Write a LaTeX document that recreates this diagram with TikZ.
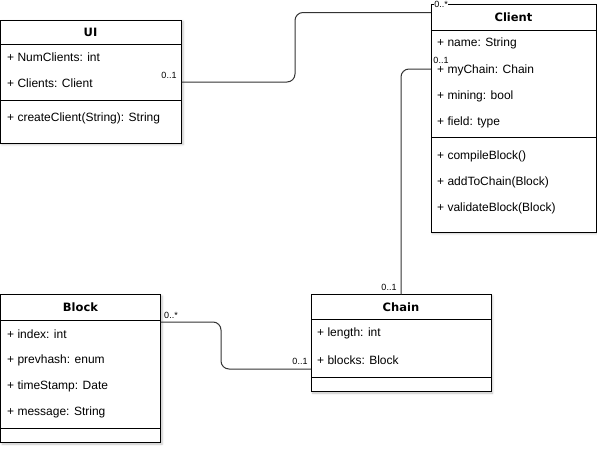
\documentclass[tikz,border=0pt]{standalone}
\usepackage{fontspec}
\setmainfont{Liberation Sans}
\newfontfamily\titlefont{DejaVu Sans}
\usetikzlibrary{calc,shadows.blur}

\tikzset{
  umlbox/.style={draw=black, line width=1pt, fill=white, anchor=north west,
    inner sep=0pt, outer sep=0pt,
    blur shadow={shadow xshift=1.5pt, shadow yshift=-1.5pt, shadow blur steps=4, shadow opacity=25}},
  umltitle/.style={font=\titlefont\bfseries\fontsize{11.5}{13}\selectfont, inner sep=0pt},
  umlattr/.style={anchor=west, font=\fontsize{12}{14}\selectfont, inner sep=0pt},
  umlrule/.style={line width=1pt},
  mult/.style={font=\fontsize{9}{10}\selectfont, fill=white, inner sep=0.5pt},
  assoc/.style={draw=black!80, line width=1pt, rounded corners=8pt},
}

\begin{document}
\begin{tikzpicture}[x=1pt,y=-1pt]
\useasboundingbox (0,0) rectangle (597,450);

% UI
\node[umlbox, minimum width=181pt, minimum height=123pt] (ui) at (0.5,20) {};
\node[umltitle] (uititle) at (90.5,32) {UI};
\draw[umlrule] (ui.west |- 0,44) -- (ui.east |- 0,44);
\node[umlattr] (uinum) at (7,57.5) {+ NumClients: int};
\node[umlattr] (uiclients) at (7,83) {+ Clients: Client};
\draw[umlrule] (ui.west |- 0,100) -- (ui.east |- 0,100);
\node[umlattr] (uicreate) at (7,118) {+ createClient(String): String};

% Client
\node[umlbox, minimum width=165pt, minimum height=228pt] (client) at (431,4) {};
\node[umltitle] (clienttitle) at (513.5,17.5) {Client};
\draw[umlrule] (client.west |- 0,30.5) -- (client.east |- 0,30.5);
\node[umlattr] (clientname) at (437,43.5) {+ name: String};
\node[umlattr] (clientchain) at (437,70.5) {+ myChain: Chain};
\node[umlattr] (clientmining) at (437,96) {+ mining: bool};
\node[umlattr] (clientfield) at (437,122) {+ field: type};
\draw[umlrule] (client.west |- 0,137.5) -- (client.east |- 0,137.5);
\node[umlattr] (clientcompile) at (437,156) {+ compileBlock()};
\node[umlattr] (clientadd) at (437,182) {+ addToChain(Block)};
\node[umlattr] (clientvalidate) at (437,208) {+ validateBlock(Block)};

% Chain
\node[umlbox, minimum width=180pt, minimum height=97pt] (chain) at (311,294.5) {};
\node[umltitle] (chaintitle) at (401,307) {Chain};
\draw[umlrule] (chain.west |- 0,319.5) -- (chain.east |- 0,319.5);
\node[umlattr] (chainlength) at (317,333.5) {+ length: int};
\node[umlattr] (chainblocks) at (317,360) {+ blocks: Block};
\draw[umlrule] (chain.west |- 0,377) -- (chain.east |- 0,377);

% Block
\node[umlbox, minimum width=160pt, minimum height=148pt] (block) at (0.5,294.5) {};
\node[umltitle] (blocktitle) at (80.5,307) {Block};
\draw[umlrule] (block.west |- 0,320) -- (block.east |- 0,320);
\node[umlattr] (blockindex) at (7,334.5) {+ index: int};
\node[umlattr] (blockhash) at (7,360.5) {+ prevhash: enum};
\node[umlattr] (blockstamp) at (7,386) {+ timeStamp: Date};
\node[umlattr] (blockmsg) at (7,412) {+ message: String};
\draw[umlrule] (block.west |- 0,428.5) -- (block.east |- 0,428.5);

% associations
\draw[assoc] (ui.east |- 0,82) -| (295,40) |- (client.west |- 0,12.5);
\draw[assoc] (client.west |- 0,69) -| (chain.north);
\draw[assoc] (block.east |- 0,322) -| (221,345) |- (chain.west |- 0,369);

% multiplicities
\node[mult] (m1) at (169,75) {0..1};
\node[mult] (m2) at (441,4) {0..*};
\node[mult] (m3) at (441,60.5) {0..1};
\node[mult] (m4) at (389,287) {0..1};
\node[mult] (m5) at (171,315) {0..*};
\node[mult] (m6) at (300,361) {0..1};
\end{tikzpicture}
\end{document}
